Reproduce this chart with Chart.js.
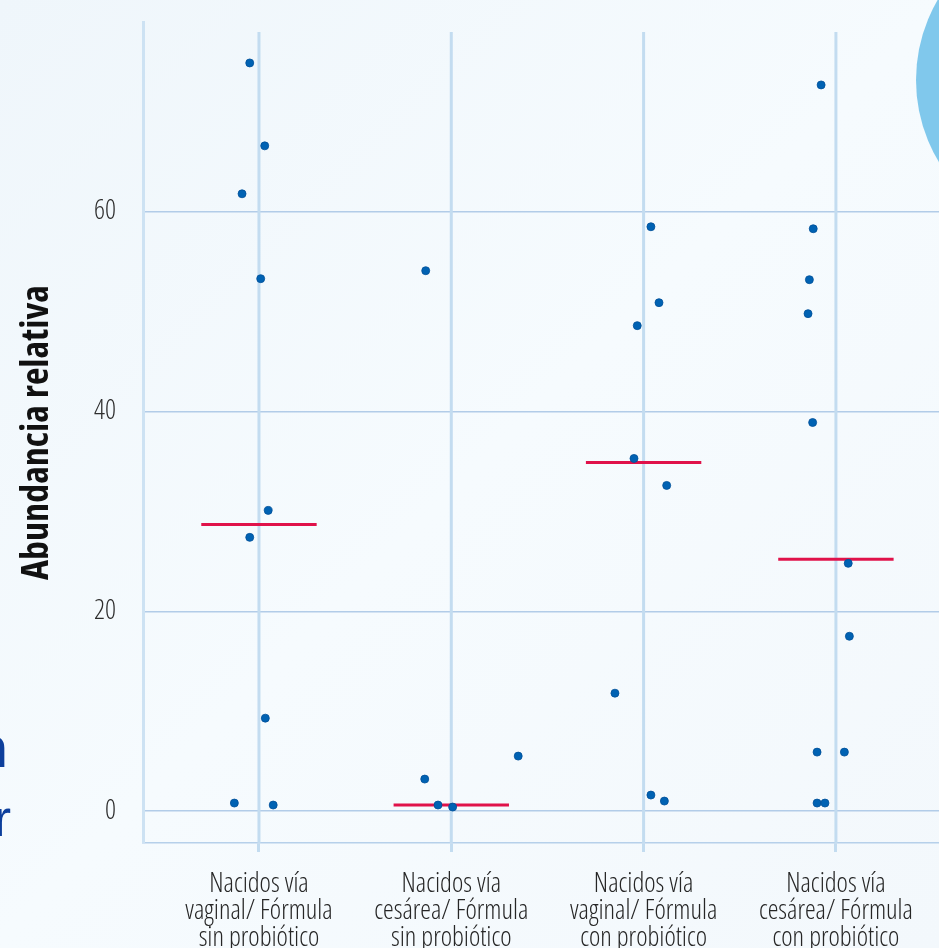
<!DOCTYPE html>
<html>
<head>
<meta charset="utf-8">
<title>Abundancia relativa</title>
<script src="https://cdn.jsdelivr.net/npm/chart.js@4.4.1/dist/chart.umd.min.js"></script>
<style>
  html, body { margin: 0; padding: 0; background: #f4f9fd; overflow: hidden; }
  canvas { display: block; }
</style>
</head>
<body>
<canvas id="abundance-chart" width="939" height="948"></canvas>
<script>
const categoryLabels = [
  ['Nacidos vía', 'vaginal/ Fórmula', 'sin probiótico'],
  ['Nacidos vía', 'cesárea/ Fórmula', 'sin probiótico'],
  ['Nacidos vía', 'vaginal/ Fórmula', 'con probiótico'],
  ['Nacidos vía', 'cesárea/ Fórmula', 'con probiótico']
];

// valores por grupo y desplazamiento horizontal (jitter) en unidades de categoría
const vaginalSinValues = [74.9, 66.6, 61.8, 53.3, 30.1, 27.4, 9.3, 0.8, 0.6];
const vaginalSinJitter = [-0.048, 0.03, -0.088, 0.009, 0.048, -0.048, 0.033, -0.128, 0.074];

const cesareaSinValues = [54.1, 5.5, 3.2, 0.6, 0.4];
const cesareaSinJitter = [-0.133, 0.348, -0.138, -0.069, 0.007];

const vaginalConValues = [58.5, 50.9, 48.6, 35.3, 32.6, 11.8, 1.6, 1.0];
const vaginalConJitter = [0.038, 0.08, -0.033, -0.05, 0.12, -0.149, 0.038, 0.108];

const cesareaConValues = [72.7, 58.3, 53.2, 49.8, 38.9, 24.8, 17.5, 5.9, 5.9, 0.8, 0.8];
const cesareaConJitter = [-0.077, -0.118, -0.138, -0.145, -0.121, 0.064, 0.07, -0.098, 0.044, -0.098, -0.057];

const medianValues = [28.7, 0.6, 34.9, 25.2];
const yTickValues = [0, 20, 40, 60];

// Open Sans es variable en anchura: 'condensed' va en el campo weight del shorthand
const FONT = "'Open Sans', 'DejaVu Sans Condensed', sans-serif";

function buildPoints() {
  const groups = [
    [vaginalSinValues, vaginalSinJitter],
    [cesareaSinValues, cesareaSinJitter],
    [vaginalConValues, vaginalConJitter],
    [cesareaConValues, cesareaConJitter]
  ];
  const points = [];
  groups.forEach(([values, jitter], index) => {
    values.forEach((value, i) => {
      points.push({x: index + 1 + jitter[i], y: value});
    });
  });
  return points;
}

const medianDatasets = medianValues.map((value, index) => ({
  type: 'line',
  data: [{x: index + 1 - 0.3, y: value}, {x: index + 1 + 0.3, y: value}],
  borderColor: '#e0124a',
  borderWidth: 3,
  pointRadius: 0,
  order: 2
}));

const backdropPlugin = {
  id: 'backdropPlugin',
  beforeDraw(chart) {
    const {ctx, width, height} = chart;
    ctx.save();
    const grad = ctx.createLinearGradient(0, 0, width, height);
    grad.addColorStop(0, '#eff6fb');
    grad.addColorStop(0.5, '#f6fbfe');
    grad.addColorStop(1, '#f3f8fc');
    ctx.fillStyle = grad;
    ctx.fillRect(0, 0, width, height);

    ctx.fillStyle = '#80c8ec';
    ctx.beginPath();
    ctx.arc(1075, 80, 159, 0, Math.PI * 2);
    ctx.fill();

    ctx.fillStyle = '#0d3f9c';
    ctx.textAlign = 'right';
    ctx.textBaseline = 'alphabetic';
    ctx.font = "bold 58px 'Liberation Sans', sans-serif";
    ctx.fillText('n', 8, 767);
    ctx.font = "52px 'Liberation Sans', sans-serif";
    ctx.fillText('r', 11, 836);
    ctx.restore();
  }
};

const categoryLinesPlugin = {
  id: 'categoryLinesPlugin',
  beforeDatasetsDraw(chart) {
    const {ctx, chartArea, scales} = chart;
    const top = scales.y.getPixelForValue(78);
    ctx.save();
    ctx.strokeStyle = '#c3dcf0';
    ctx.lineWidth = 3;
    categoryLabels.forEach((label, index) => {
      const x = scales.x.getPixelForValue(index + 1);
      ctx.beginPath();
      ctx.moveTo(x, top);
      ctx.lineTo(x, chartArea.bottom);
      ctx.stroke();
    });
    ctx.restore();
  }
};

const ctx = document.getElementById('abundance-chart').getContext('2d');

new Chart(ctx, {
  type: 'scatter',
  data: {
    datasets: [
      {
        data: buildPoints(),
        backgroundColor: '#0062b3',
        borderColor: '#004f98',
        borderWidth: 0.8,
        pointRadius: 4,
        order: 1
      },
      ...medianDatasets
    ]
  },
  options: {
    responsive: false,
    animation: false,
    layout: {
      autoPadding: false,
      padding: {top: 22, right: 0, bottom: 0, left: 0}
    },
    plugins: {
      legend: {display: false},
      tooltip: {enabled: false}
    },
    scales: {
      x: {
        type: 'linear',
        min: 0.397,
        max: 4.536,
        afterBuildTicks(scale) {
          scale.ticks = categoryLabels.map((label, index) => ({value: index + 1}));
        },
        afterFit(scale) {
          scale.height = 105;
          scale.paddingLeft = 0;
          scale.paddingRight = 0;
        },
        grid: {
          display: true,
          drawOnChartArea: false,
          drawTicks: true,
          tickLength: 9,
          color: '#c3dcf0',
          lineWidth: 3
        },
        border: {
          display: true,
          color: '#b6d0ea',
          width: 1.5
        },
        ticks: {
          autoSkip: false,
          maxRotation: 0,
          padding: 19,
          color: '#262626',
          font: {family: FONT, size: 27, weight: '300 condensed', lineHeight: 1.0},
          callback(value) {
            return categoryLabels[Math.round(value) - 1] || '';
          }
        }
      },
      y: {
        min: -3.2,
        max: 79.0,
        afterBuildTicks(scale) {
          scale.ticks = yTickValues.map((v) => ({value: v}));
        },
        afterFit(scale) {
          scale.width = 143;
          scale.paddingTop = 0;
          scale.paddingBottom = 0;
        },
        grid: {
          color: '#b2cce8',
          lineWidth: 1.5,
          drawTicks: false
        },
        border: {
          display: true,
          color: '#cde2f3',
          width: 3
        },
        ticks: {
          padding: 27,
          color: '#2e2e2e',
          font: {family: FONT, size: 27, weight: '300 condensed'}
        },
        title: {
          display: true,
          text: 'Abundancia relativa',
          color: '#111111',
          padding: {top: 14, bottom: 0},
          font: {family: FONT, size: 38, weight: 'bold condensed'}
        }
      }
    }
  },
  plugins: [backdropPlugin, categoryLinesPlugin]
});
</script>
</body>
</html>
